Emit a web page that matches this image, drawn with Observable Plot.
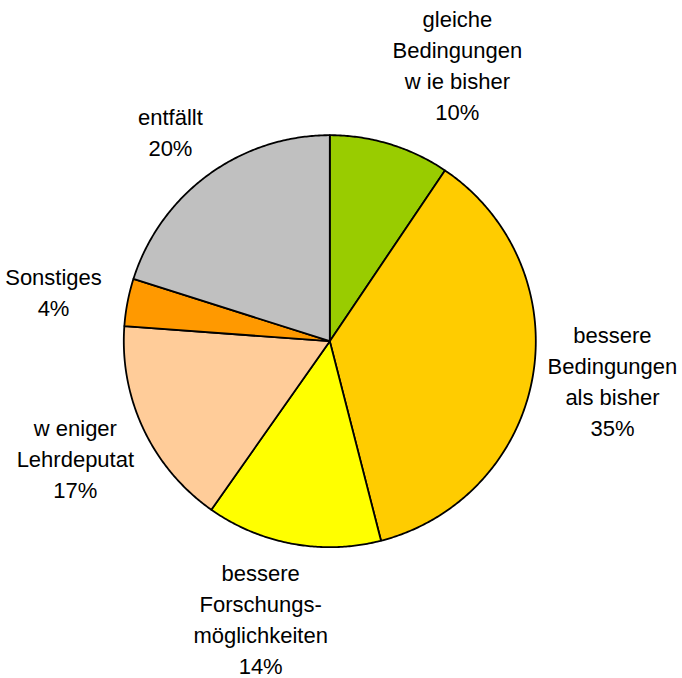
<!DOCTYPE html>
<html>
<head>
<meta charset="utf-8">
<script src="https://cdn.jsdelivr.net/npm/d3@7"></script>
<script src="https://cdn.jsdelivr.net/npm/@observablehq/plot@0.6"></script>
<style>
  html, body { margin: 0; padding: 0; background: #ffffff; }
  #chart svg { display: block; }
</style>
</head>
<body>
<div id="chart"></div>
<script>
// ---- data ----
const categories = [
  "gleiche Bedingungen wie bisher",
  "bessere Bedingungen als bisher",
  "bessere Forschungsmöglichkeiten",
  "weniger Lehrdeputat",
  "Sonstiges",
  "entfällt"
];
const labels = [
  "gleiche\nBedingungen\nw ie bisher\n10%",
  "bessere\nBedingungen\nals bisher\n35%",
  "bessere\nForschungs-\nmöglichkeiten\n14%",
  "w eniger\nLehrdeputat\n17%",
  "Sonstiges\n4%",
  "entfällt\n20%"
];
// slice sizes (share of the circle, %)
const values = [9.44, 36.56, 13.75, 16.42, 3.72, 20.11];
const colors = ["#99CC00", "#FFCC00", "#FFFF00", "#FFCC99", "#FF9900", "#C0C0C0"];

// ---- layout ----
const W = 682, H = 678;
const CX = 329.3, CY = 340.7, R = 206;
// label placement: [angle in degrees clockwise from top, distance in radii]
const labelPolar = [
  [24.9, 1.471],
  [98.4, 1.387],
  [193.9, 1.397],
  [244.9, 1.364],
  [279.8, 1.361],
  [322.5, 1.271]
];

const arcs = d3.pie().sort(null).value(d => d)(values);
const slicePts = [];
arcs.forEach((p, i) => {
  const cat = categories[i];
  slicePts.push({cat, x: 0, y: 0});
  const deg = (p.endAngle - p.startAngle) * 180 / Math.PI;
  const n = Math.max(2, Math.ceil(deg * 2));
  for (let k = 0; k <= n; k++) {
    const a = p.startAngle + (p.endAngle - p.startAngle) * k / n;
    slicePts.push({cat, x: Math.sin(a), y: Math.cos(a)});
  }
});

const labelData = labels.map((t, i) => {
  const a = labelPolar[i][0] * Math.PI / 180, d = labelPolar[i][1];
  return {text: t, x: d * Math.sin(a), y: d * Math.cos(a)};
});

const chart = Plot.plot({
  width: W,
  height: H,
  margin: 0,
  x: {domain: [-CX / R, (W - CX) / R], axis: null},
  y: {domain: [-(H - CY) / R, CY / R], axis: null},
  color: {domain: categories, range: colors},
  style: {fontFamily: "'Liberation Sans', Arial, Helvetica, sans-serif", background: "#ffffff", color: "#000000"},
  marks: [
    Plot.line(slicePts, {
      x: "x", y: "y", z: "cat", fill: "cat",
      stroke: "#000000", strokeWidth: 1.8,
      curve: "linear-closed", strokeLinejoin: "round"
    }),
    Plot.text(labelData, {
      x: "x", y: "y", text: "text",
      fontSize: 22, lineHeight: 1.41, dy: -3,
      fill: "#000000", textAnchor: "middle"
    })
  ]
});
document.getElementById("chart").appendChild(chart);
</script>
</body>
</html>
